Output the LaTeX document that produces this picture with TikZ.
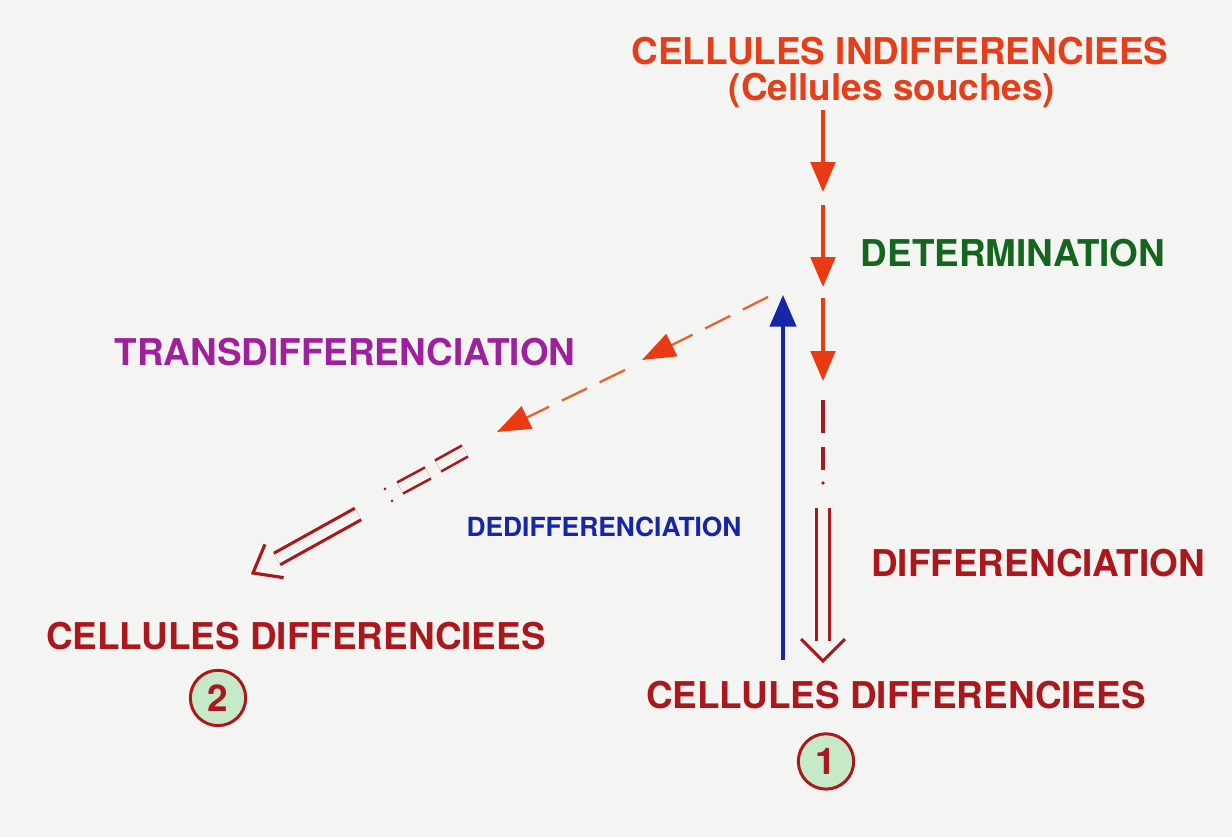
\documentclass[tikz,border=0pt]{standalone}
\usepackage{fontspec}
\setmainfont{TeX Gyre Heros}
\usetikzlibrary{arrows.meta,calc,positioning}

\definecolor{souche}{RGB}{228,62,26}
\definecolor{fleche}{RGB}{234,58,20}
\definecolor{tiret}{RGB}{226,104,50}
\definecolor{rouge}{RGB}{170,24,30}
\definecolor{vert}{RGB}{20,102,30}
\definecolor{bleu}{RGB}{22,38,166}
\definecolor{violet}{RGB}{158,32,156}
\definecolor{pastille}{RGB}{198,234,200}
\definecolor{fond}{RGB}{244,244,242}

\begin{document}
\begin{tikzpicture}
   [x=0.02cm, y=-0.02cm,
    titre/.style={font=\bfseries\fontsize{21pt}{24pt}\selectfont, inner sep=0pt, anchor=base},
    petit/.style={font=\bfseries\fontsize{15pt}{18pt}\selectfont, inner sep=0pt, anchor=base},
    num/.style={circle, draw=rouge, fill=pastille, line width=1.7pt, minimum size=31.5pt, inner sep=0pt, text=rouge, font=\bfseries\fontsize{21pt}{21pt}\selectfont},
    fl/.style={line width=1.9pt, draw=fleche, -{Triangle[length=17pt,width=14pt]}},
    tr/.style={line width=1.35pt, draw=tiret, dash pattern=on 16pt off 8pt, -{Triangle[length=19pt,width=14pt,color=fleche]}},
    pointille/.style={line width=1.8pt, draw=rouge},
    dbl/.style={line width=1.8pt, draw=rouge, double=fond, double distance=5.6pt},
    chevron/.style={line width=1.8pt, draw=rouge, line join=miter},
    dedif/.style={line width=1.8pt, draw=bleu, -{Triangle[length=18pt,width=15pt]}}]
   \fill[fond] (0,0) rectangle (1232,837);

   \node[titre, text=souche] (indiff) at (900,65) {CELLULES INDIFFERENCIEES};
   \node[titre, text=souche] (souches) at (892,101) {(Cellules souches)};
   \node[titre, text=vert] (determ) at (1013,267) {DETERMINATION};
   \node[titre, text=violet] (transdif) at (345,366) {TRANSDIFFERENCIATION};
   \node[petit, text=bleu] (dedifnom) at (604,537) {DEDIFFERENCIATION};
   \node[titre, text=rouge] (differ) at (1038,577) {DIFFERENCIATION};
   \node[titre, text=rouge] (cell2) at (296,650) {CELLULES DIFFERENCIEES};
   \node[titre, text=rouge] (cell1) at (896,709) {CELLULES DIFFERENCIEES};
   \node[num, below=0.45cm of cell1, xshift=-1.4cm] (un) {1};
   \node[num, below=0.36cm of cell2, xshift=-1.56cm] (deux) {2};

   \coordinate (v1) at (823,110);
   \coordinate (v2) at (823,192);
   \coordinate (v3) at (823,205);
   \coordinate (v4) at (823,287);
   \coordinate (v5) at (823,298);
   \coordinate (v6) at (823,381);
   \coordinate (v7) at (823,400);
   \coordinate (v8) at (823,433);
   \coordinate (v9) at (823,447);
   \coordinate (v10) at (823,470);
   \coordinate (v11) at (823,483);
   \coordinate (v12) at (823,508);
   \coordinate (v13) at (823,641);
   \coordinate (v14) at (823,661);

   \draw[fl] (v1) -- (v2);
   \draw[fl] (v3) -- (v4);
   \draw[fl] (v5) -- (v6);
   \draw[pointille] (v7) -- (v8);
   \draw[pointille] (v9) -- (v10);
   \fill[rouge] (v11) circle (1.8);
   \draw[dbl] (v12) -- (v13);
   \draw[chevron] ($(v14)!0.62cm!45:(v12)$) -- (v14) -- ($(v14)!0.62cm!-45:(v12)$);

   \coordinate (b0) at (783,660);
   \coordinate (b1) at (783,295);
   \draw[dedif] (b0) -- (b1);

   \coordinate (t0) at (768,297);
   \coordinate (t1) at (642,360);
   \coordinate (t2) at (625,370);
   \coordinate (t3) at (497,432);
   \coordinate (t4) at (465,451);
   \coordinate (t5) at (438,466);
   \coordinate (t6) at (428,473);
   \coordinate (t7) at (400,488);
   \coordinate (p1) at (385,489);
   \coordinate (p2) at (392,501);
   \coordinate (t8) at (358,514);
   \coordinate (t9) at (277,559);
   \coordinate (t10) at (253,573);

   \draw[tr] (t0) -- (t1);
   \draw[tr] (t2) -- (t3);
   \draw[dbl, line width=1.5pt] (t4) -- (t5);
   \draw[dbl, line width=1.5pt] (t6) -- (t7);
   \fill[rouge] (p1) circle (1.5);
   \fill[rouge] (p2) circle (1.5);
   \draw[dbl] (t8) -- (t9);
   \draw[chevron] ($(t10)!0.62cm!38:(t8)$) -- (t10) -- ($(t10)!0.62cm!-38:(t8)$);
\end{tikzpicture}
\end{document}
